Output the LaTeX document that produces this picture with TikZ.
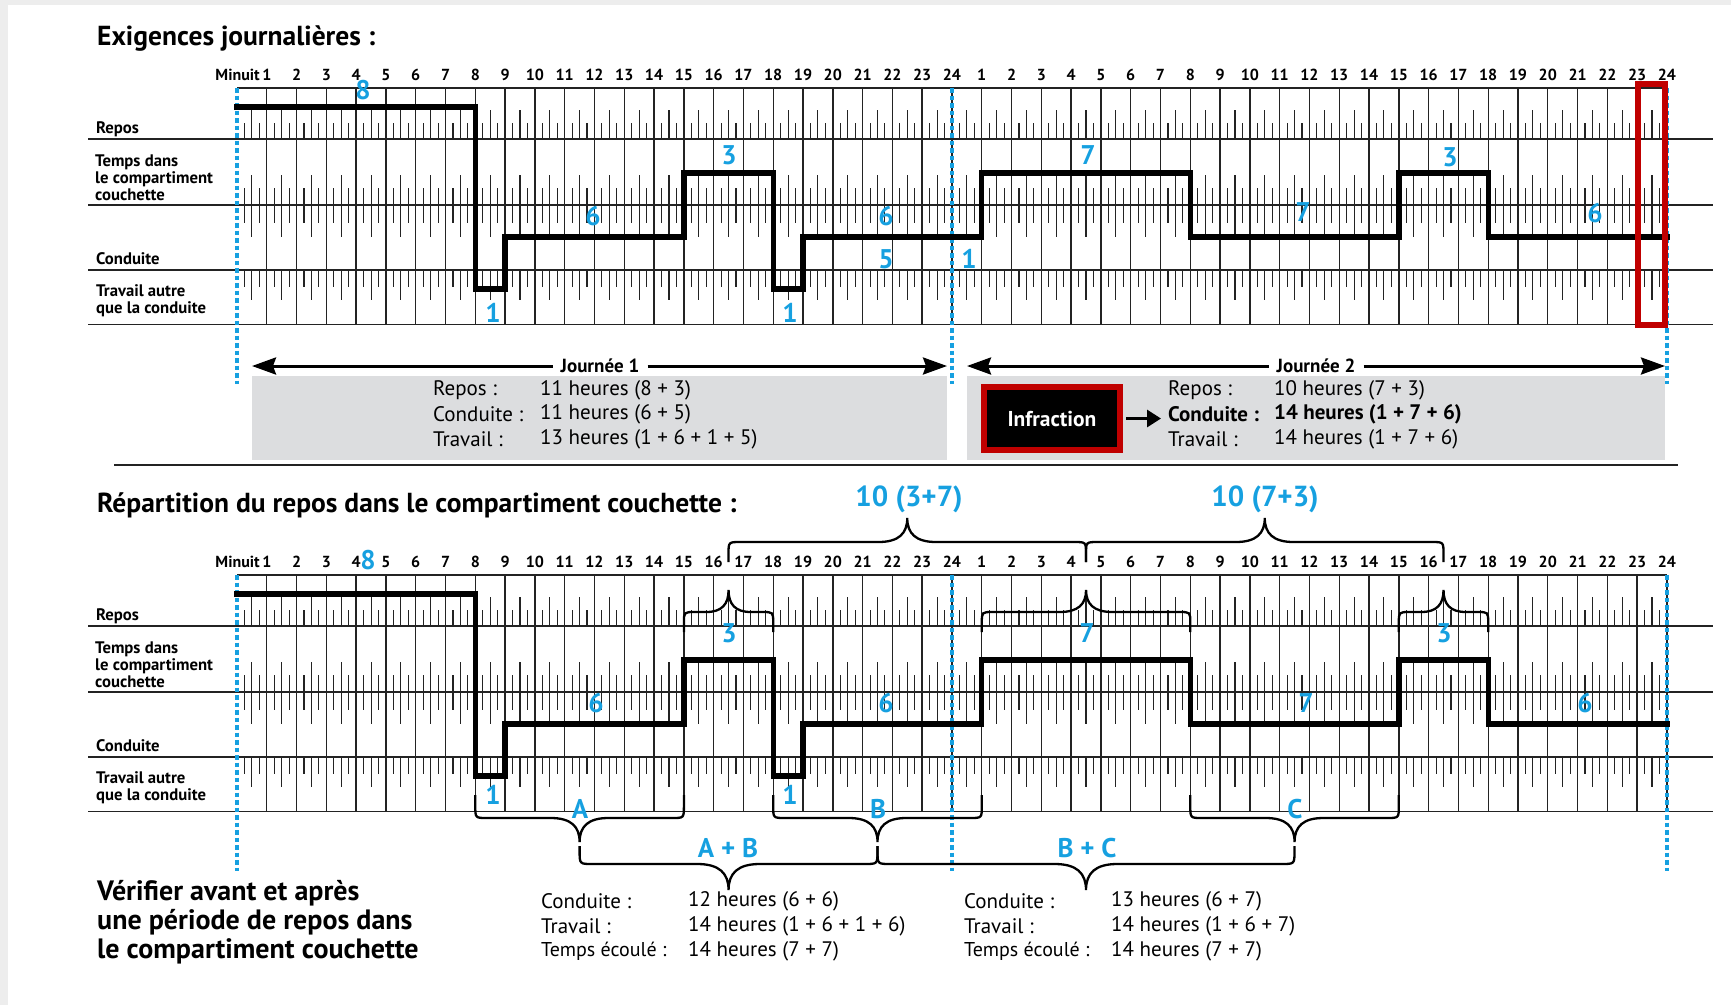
\documentclass[tikz,border=0pt]{standalone}
\usepackage{fontspec}
\setmainfont{PT Sans}
\usetikzlibrary{arrows.meta}
\definecolor{cblue}{RGB}{22,160,224}
\definecolor{cred}{RGB}{192,0,0}
\definecolor{cgray}{RGB}{220,221,223}
\definecolor{cline}{RGB}{35,35,35}
\newcommand\fs[2]{\fontsize{#1}{#2}\selectfont}

% brace: x1, x2, y of free ends, y of bar, y of tip
\newcommand\mybrace[5]{%
  \pgfmathsetmacro\BrXm{(#1+#2)/2}%
  \pgfmathsetmacro\BrD{#5-#4}%
  \pgfmathsetmacro\BrAD{abs(\BrD)}%
  \pgfmathsetmacro\BrR{0.5*\BrD}%
  \pgfmathsetmacro\BrA{abs(\BrR)}%
  \pgfmathsetmacro\BrW{min(1.2*\BrAD,0.25*(#2-#1))}%
  \draw[bracestyle] (#1,#3) -- (#1,{#4-\BrR}) .. controls (#1,#4) .. ({#1+\BrA},#4)
    -- ({\BrXm-\BrW},#4) .. controls ({\BrXm-0.3*\BrW},#4) and (\BrXm,{#4+0.35*\BrD}) .. (\BrXm,#5)
    .. controls (\BrXm,{#4+0.35*\BrD}) and ({\BrXm+0.3*\BrW},#4) .. ({\BrXm+\BrW},#4)
    -- ({#2-\BrA},#4) .. controls (#2,#4) .. (#2,{#4-\BrR}) -- (#2,#3);
}

\newcommand\chart[1]{%
  \draw[hline] ({hx(0)},88) -- ({hx(48)},88);
  \foreach \yy in {139,205,270,324.6} \draw[hline] (88,\yy) -- (1713,\yy);
  \foreach \h in {1,...,48} \draw[hourline] ({hx(\h)},88) -- ({hx(\h)},324.6);
  \foreach \h in {0,...,47} {
    \draw[tick] ({hx(\h+0.25)},123) -- ({hx(\h+0.25)},139)
                ({hx(\h+0.5)},110) -- ({hx(\h+0.5)},139)
                ({hx(\h+0.75)},123) -- ({hx(\h+0.75)},139)
                ({hx(\h+0.25)},188) -- ({hx(\h+0.25)},223)
                ({hx(\h+0.5)},175) -- ({hx(\h+0.5)},237)
                ({hx(\h+0.75)},188) -- ({hx(\h+0.75)},223)
                ({hx(\h+0.25)},270) -- ({hx(\h+0.25)},287)
                ({hx(\h+0.5)},270) -- ({hx(\h+0.5)},300)
                ({hx(\h+0.75)},270) -- ({hx(\h+0.75)},287);
  }
  \node[hourlbl,anchor=east] (#1min) at (260,75) {Minuit};
  \foreach \h in {1,...,24} {
    \node[hourlbl] (#1a\h) at ({hx(\h)},75) {\h};
    \node[hourlbl] (#1b\h) at ({hx(\h+24)},75) {\h};
  }
  \node[rowlbl] (#1repos) at (96,129) {Repos};
  \node[rowlbl] (#1temps) at (95,178) {Temps dans\\le compartiment\\couchette};
  \node[rowlbl] (#1cond) at (96,259) {Conduite};
  \node[rowlbl] (#1trav) at (96,300.5) {Travail autre\\que la conduite};
  \foreach \xx in {0,24,48} \draw[bluedot] ({hx(\xx)},88) -- ({hx(\xx)},384);
  \draw[stepline] ({hx(0)},107) -| ({hx(8)},289) -| ({hx(9)},237) -| ({hx(15)},173)
     -| ({hx(18)},289) -| ({hx(19)},237) -| ({hx(25)},173) -| ({hx(32)},237)
     -| ({hx(39)},173) -| ({hx(42)},237) -- ({hx(48)},237);
}

\begin{document}
\begin{tikzpicture}[x=1pt,y=-1pt,
  declare function={hx(\h)=237+29.79*\h;},
  hline/.style={line width=1.7pt,cline},
  hourline/.style={line width=1.4pt,cline},
  tick/.style={line width=1.1pt,cline},
  stepline/.style={line width=5.4pt,black,line cap=rect,line join=miter},
  bluedot/.style={cblue,line width=4.5pt,dash pattern=on 4.5pt off 3pt},
  bluelbl/.style={text=cblue,font=\bfseries\fs{27}{28},inner sep=0pt},
  bluebig/.style={text=cblue,font=\bfseries\fs{29}{30},inner sep=0pt},
  hourlbl/.style={font=\bfseries\fs{16}{16},inner sep=0pt},
  rowlbl/.style={font=\bfseries\fs{16.7}{17},align=left,anchor=west,inner sep=0pt},
  title/.style={font=\bfseries\fs{27.5}{30},anchor=west,align=left,inner sep=0pt},
  info/.style={font=\fs{21}{22},anchor=west,inner sep=0pt},
  bracestyle/.style={line width=2.3pt,black},
  jarrow/.style={line width=3pt,-{Stealth[length=24pt,width=17pt,inset=3pt]}},
  jlbl/.style={font=\bfseries\fs{19}{19},inner xsep=8pt,inner ysep=0pt},
]
\useasboundingbox (0,0) rectangle (1731,1005);
\fill[black!7] (0,0) rectangle (8,1005);
\fill[black!7] (0,0) rectangle (1731,5);

% ---------- titles ----------
\node[title] (t1) at (97,39) {Exigences journalières :};
\node[title] (t2) at (97,505) {Répartition du repos dans le compartiment couchette :};

% ---------- gray boxes ----------
\fill[cgray] (252,376) rectangle (947,460);
\fill[cgray] (967,376) rectangle (1665,460);

% ---------- top chart ----------
\chart{t}
\draw[cred,line width=5.5pt] (1638,84) rectangle (1665,325);

\node[bluelbl] (t8)  at (363,90) {8};
\node[bluelbl] (t1a) at (493,313) {1};
\node[bluelbl] (t6a) at (593,216) {6};
\node[bluelbl] (t3a) at (729,155) {3};
\node[bluelbl] (t1b) at (790,313) {1};
\node[bluelbl] (t6b) at (886,216) {6};
\node[bluelbl] (t5)  at (886,259) {5};
\node[bluelbl] (t1c) at (969,259) {1};
\node[bluelbl] (t7a) at (1088,155) {7};
\node[bluelbl] (t7b) at (1303,212) {7};
\node[bluelbl] (t3b) at (1450,157) {3};
\node[bluelbl] (t6c) at (1595,213) {6};

% ---------- journees ----------
\node[jlbl] (j1) at (600,366) {Journée 1};
\coordinate (j1L) at (252,366);
\coordinate (j1R) at (947,366);
\draw[jarrow] (j1.west) -- (j1L);
\draw[jarrow] (j1.east) -- (j1R);
\node[jlbl] (j2) at (1316,366) {Journée 2};
\coordinate (j2L) at (967,366);
\coordinate (j2R) at (1665,366);
\draw[jarrow] (j2.west) -- (j2L);
\draw[jarrow] (j2.east) -- (j2R);

\node[info] (r1l) at (433,390) {Repos :};
\node[info] (r1v) at (540,390) {11 heures (8 + 3)};
\node[info] (c1l) at (433,414) {Conduite :};
\node[info] (c1v) at (540,414) {11 heures (6 + 5)};
\node[info] (w1l) at (433,439) {Travail :};
\node[info] (w1v) at (540,439) {13 heures (1 + 6 + 1 + 5)};

\node[draw=cred,fill=black,line width=6pt,minimum width=136pt,minimum height=63pt,
      text=white,font=\bfseries\fs{21.5}{22},inner sep=0pt] (infr) at (1052,418.5) {Infraction};
\coordinate (infrTip) at (1161,418.5);
\draw[line width=3pt,shorten <=3pt,-{Triangle[length=14pt,width=17pt]}] (infr.east) -- (infrTip);

\node[info] (r2l) at (1168,390) {Repos :};
\node[info] (r2v) at (1274,390) {10 heures (7 + 3)};
\node[info,font=\bfseries\fs{21}{22}] (c2l) at (1168,414) {Conduite :};
\node[info,font=\bfseries\fs{21}{22}] (c2v) at (1274,414) {14 heures (1 + 7 + 6)};
\node[info] (w2l) at (1168,439) {Travail :};
\node[info] (w2v) at (1274,439) {14 heures (1 + 7 + 6)};

\draw[line width=2.5pt,cline] (114,465) -- (1678,465);

% ---------- bottom chart ----------
\begin{scope}[shift={(0,487)}]
\chart{b}
\end{scope}

\node[bluelbl] (b8)  at (368,560) {8};
\node[bluelbl] (b3a) at (729,633) {3};
\node[bluelbl] (b7a) at (1087,633) {7};
\node[bluelbl] (b3b) at (1444,633) {3};
\node[bluelbl] (b6a) at (596,703) {6};
\node[bluelbl] (b6b) at (886,703) {6};
\node[bluelbl] (b7b) at (1306,703) {7};
\node[bluelbl] (b6c) at (1585,703) {6};
\node[bluelbl] (b1a) at (493,795) {1};
\node[bluelbl] (b1b) at (790,795) {1};

% braces above
\mybrace{683.9}{773.2}{632}{612}{590}
\mybrace{981.8}{1190.3}{632}{612}{590}
\mybrace{1398.8}{1488.2}{632}{612}{590}
\mybrace{728.5}{1086}{562}{542}{518}
\mybrace{1086}{1443.5}{562}{542}{518}
\node[bluebig] (l37) at (909,499) {10 (3+7)};
\node[bluebig] (l73) at (1265,499) {10 (7+3)};

% braces below
\mybrace{475.3}{683.9}{795}{818}{842}
\mybrace{773.2}{981.8}{795}{818}{842}
\mybrace{1190.3}{1398.8}{795}{818}{842}
\mybrace{579.6}{877.5}{846}{864}{890}
\mybrace{877.5}{1294.5}{846}{864}{890}
\node[bluelbl] (lA) at (580,809) {A};
\node[bluelbl] (lB) at (878,809) {B};
\node[bluelbl] (lC) at (1295,809) {C};
\node[bluelbl] (lAB) at (728,848) {A + B};
\node[bluelbl] (lBC) at (1087,848) {B + C};

% ---------- bottom texts ----------
\node[font=\bfseries\fs{28}{29},anchor=west,align=left,inner sep=0pt] (verif) at (97,922)
  {Vérifier avant et après\\une période de repos dans\\le compartiment couchette};

\node[info] (c3l) at (541,901) {Conduite :};
\node[info] (c3v) at (688,901) {12 heures (6 + 6)};
\node[info] (w3l) at (541,926) {Travail :};
\node[info] (w3v) at (688,926) {14 heures (1 + 6 + 1 + 6)};
\node[info,font=\fs{20}{22}] (e3l) at (541,951) {Temps écoulé :};
\node[info] (e3v) at (688,951) {14 heures (7 + 7)};

\node[info] (c4l) at (964,901) {Conduite :};
\node[info] (c4v) at (1111,901) {13 heures (6 + 7)};
\node[info] (w4l) at (964,926) {Travail :};
\node[info] (w4v) at (1111,926) {14 heures (1 + 6 + 7)};
\node[info,font=\fs{20}{22}] (e4l) at (964,951) {Temps écoulé :};
\node[info] (e4v) at (1111,951) {14 heures (7 + 7)};
\end{tikzpicture}
\end{document}
